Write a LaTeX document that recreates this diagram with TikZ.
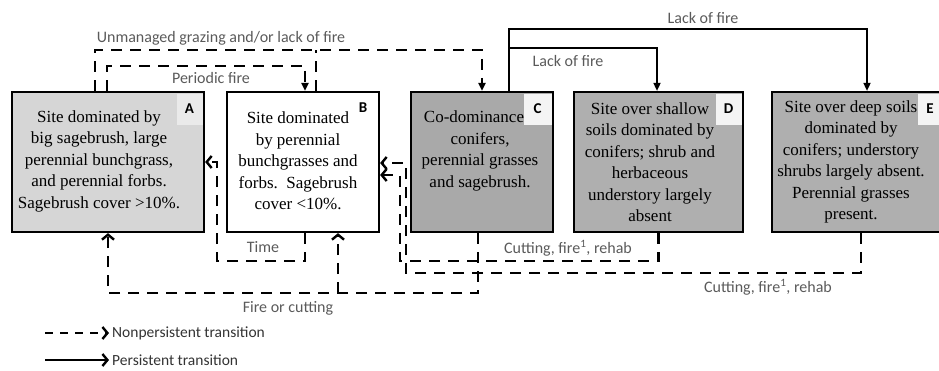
\documentclass[tikz,border=0pt]{standalone}
\usepackage{fontspec}
\setmainfont{Liberation Serif}
\newfontfamily\labfont{Carlito}
\usetikzlibrary{arrows.meta}
\definecolor{fillA}{HTML}{D6D6D6}
\definecolor{fillC}{HTML}{A9A9A9}
\definecolor{fillDE}{HTML}{AFAFAF}
\definecolor{labgray}{HTML}{5A5A5A}
\definecolor{leggray}{HTML}{333333}
\definecolor{patchA}{HTML}{EAEAEA}
\definecolor{patchC}{HTML}{F4F4F4}
\begin{document}
\begin{tikzpicture}[x=1pt,y=-1pt,
  box/.style={draw=black, line width=2.2pt, minimum height=140pt, inner sep=0pt},
  patch/.style={inner sep=0pt, minimum width=26pt, minimum height=31pt, font=\labfont\bfseries\fontsize{15}{15}\selectfont},
  letter/.style={inner sep=0pt, font=\labfont\bfseries\fontsize{15}{15}\selectfont},
  boxtext/.style={align=center, inner sep=0pt, font=\fontsize{17}{21.5}\selectfont},
  lab/.style={inner sep=1pt, text=labgray, font=\labfont\fontsize{16}{18}\selectfont},
  legtext/.style={inner sep=1pt, text=leggray, font=\labfont\fontsize{15.5}{17}\selectfont},
  nonp/.style={line width=2.2pt, dash pattern=on 11pt off 8pt},
  pers/.style={line width=1.6pt},
  downtip/.style={-{Triangle[length=8pt,width=7pt]}},
  barbtip/.style={-{Straight Barb[length=5pt,width=12pt,line width=2.4pt]}}
]
\useasboundingbox (0,0) rectangle (939,370);
\clip (0,0) rectangle (939,370);

% boxes
\node[box, fill=fillA, minimum width=192pt] (A) at (108,162) {};
\node[box, fill=white, minimum width=152pt] (B) at (303,162) {};
\node[box, fill=fillC, minimum width=142pt] (C) at (482,162) {};
\node[box, fill=fillDE, minimum width=169pt] (D) at (658.5,162) {};
\node[box, fill=fillDE, minimum width=178pt] (E) at (861,162) {};

% letter patches
\node[patch, fill=patchA] (Ap) at (189.5,109) {A};
\node[letter] (Bl) at (363,108) {B};
\node[patch, fill=patchC, minimum width=28pt] (Cp) at (537.5,109) {C};
\node[patch, fill=patchC] (Dp) at (728.5,109) {D};
\node[patch, fill=patchC, minimum width=24pt] (Ep) at (930,109) {E};

% box texts
\node[boxtext] (At) at (99,161) {Site dominated by\\big sagebrush, large\\perennial bunchgrass,\\and perennial forbs.\\Sagebrush cover >10\%.};
\node[boxtext] (Bt) at (298,161) {Site dominated\\by perennial\\bunchgrasses and\\forbs.\ \ Sagebrush\\cover <10\%.};
\node[boxtext] (Ct) at (480,151) {Co-dominance\hspace*{12pt}\\conifers,\\perennial grasses\\and sagebrush.};
\node[boxtext] (Dt) at (650,162) {Site over shallow\\soils dominated by\\conifers; shrub and\\herbaceous\\understory largely\\absent};
\node[boxtext] (Et) at (851,162) {Site over deep soils\\dominated by\\conifers; understory\\shrubs largely absent.\\Perennial grasses\\present.};

% connectors: nonpersistent
\draw[nonp, downtip] ([xshift=-13pt]A.north) -- ++(0,-41) -| (C.north);
\draw[nonp] ([xshift=13pt]B.north) -- ++(0,-41);
\draw[nonp, downtip] ([xshift=-1pt]A.north) -- ++(0,-25) -| ([xshift=2pt]B.north);
\draw[nonp, barbtip] ([xshift=2pt]B.south) -- ++(0,28) -- ++(-88,0) |- (A.east);
\draw[nonp, barbtip] ([xshift=-4pt]C.south) -- ++(0,60) -| (A.south);
\draw[nonp, barbtip] ([xshift=35pt,yshift=-60pt]B.south) -- ([xshift=35pt]B.south);
\draw[nonp, barbtip] (D.south) -- ++(0,28) -- ++(-258.5,0) |- ([yshift=-13pt]B.east);
\draw[nonp, barbtip] (E.south) -- ++(0,40) -- ++(-455,0) |- ([yshift=-1pt]B.east);

% connectors: persistent
\draw[pers, downtip] ([xshift=27pt]C.north) -- ++(0,-62) -| ([xshift=6pt]E.north);
\draw[pers, downtip] ([xshift=27pt,yshift=43pt]C.north) -| ([xshift=-1.5pt]D.north);

% labels
\node[lab] (lUG) at (221,38) {Unmanaged grazing and/or lack of fire};
\node[lab] (lPF) at (211,78) {Periodic fire};
\node[lab] (lT) at (263,247) {Time};
\node[lab] (lFC) at (288,308) {Fire or cutting};
\node[lab] (lCD) at (568,248) {Cutting, fire\textsuperscript{1}, rehab};
\node[lab] (lCE) at (768,287) {Cutting, fire\textsuperscript{1}, rehab};
\node[lab] (lLE) at (703,18) {Lack of fire};
\node[lab] (lLD) at (568,61) {Lack of fire};

% legend
\coordinate (L1) at (45,333);
\node[legtext, anchor=west] (L1t) at (111,333) {Nonpersistent transition};
\draw[line width=2.4pt, dash pattern=on 8pt off 7pt, barbtip] (L1) -- ([xshift=-2pt]L1t.west);
\coordinate (L2) at (45,360);
\node[legtext, anchor=west] (L2t) at (111,360) {Persistent transition};
\draw[line width=2pt, barbtip] (L2) -- ([xshift=-2pt]L2t.west);
\end{tikzpicture}
\end{document}
